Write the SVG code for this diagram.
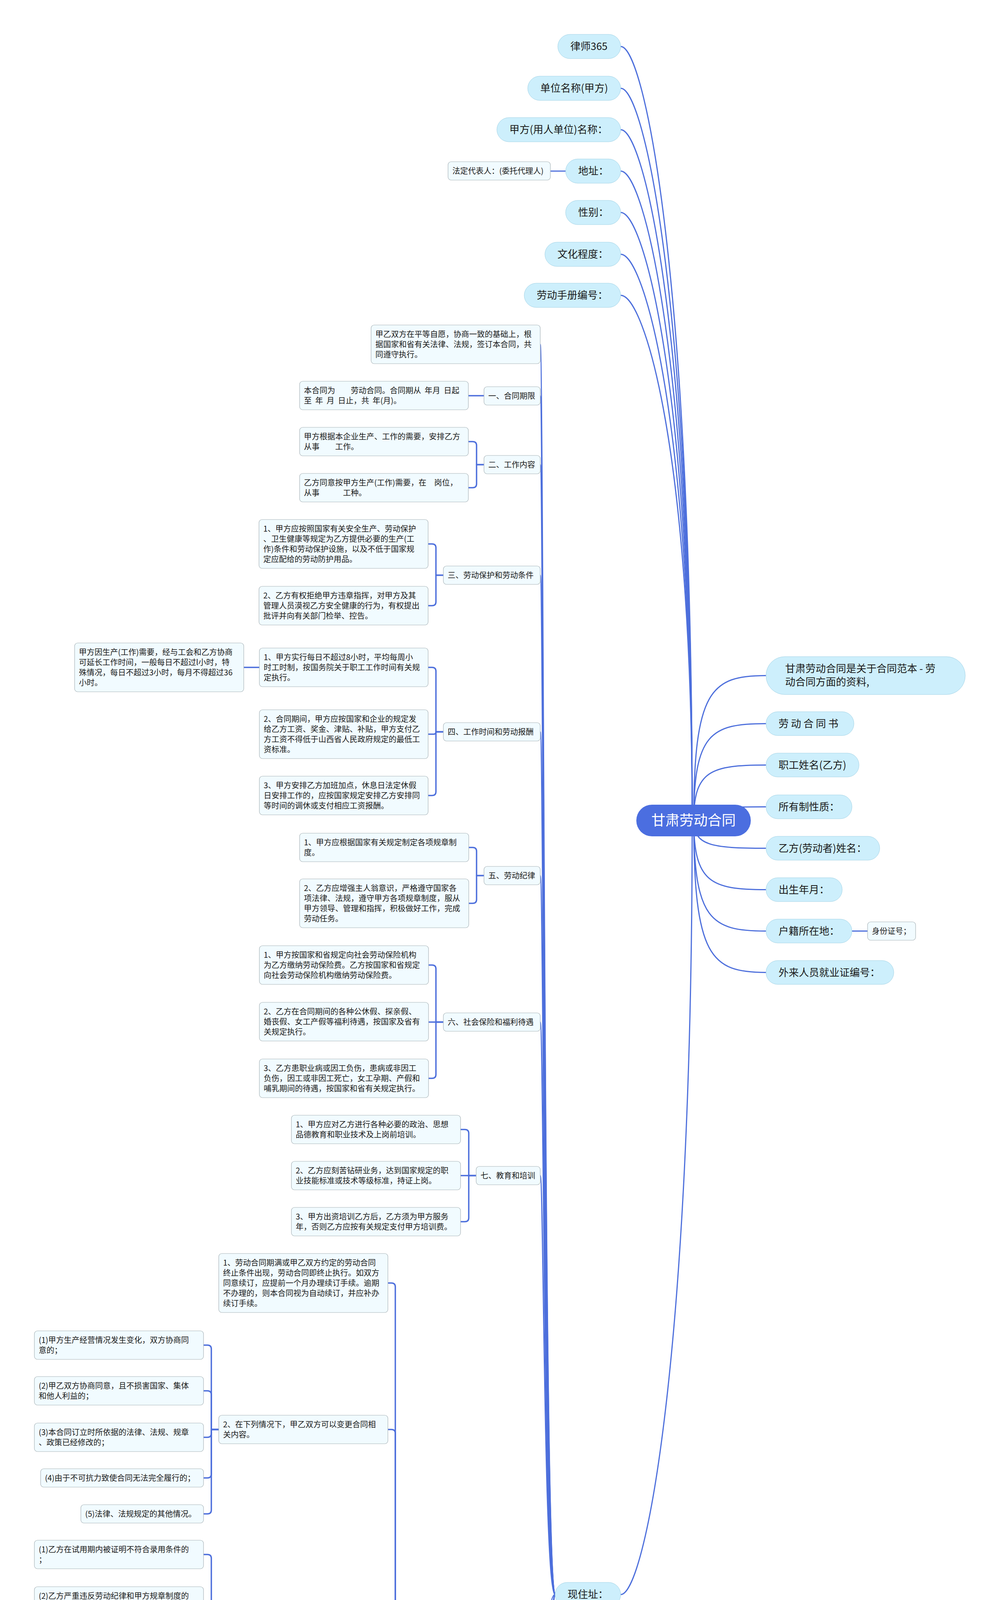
<svg xmlns="http://www.w3.org/2000/svg" width="2560" height="7577" viewBox="0 0 2560 7577">
<style>
text{font-family:"Noto Sans CJK SC","Noto Sans",sans-serif;fill:#1a1a1a}
.p rect{fill:#cdeffc;stroke:#a3d3e6;stroke-width:1}
.p text{font-size:26px}
.b rect{fill:#f1fbff;stroke:#a8b3b8;stroke-width:1.2}
.b text{font-size:20px}
.x text{font-family:"DejaVu Sans",sans-serif;font-size:30px;text-anchor:middle;font-weight:300}
#n-root rect{fill:#4b6ee0}
#n-root text{font-size:36px;fill:#ffffff;text-anchor:middle}
.c path{fill:none;stroke:#4d6fdc;stroke-width:3;stroke-linecap:round}
.k path{fill:none;stroke:#4d6fdc;stroke-width:3.5;stroke-linecap:round;stroke-linejoin:round}
</style>
<g id="connectors">
<g class="c">
<path d="M1589,119 C1650,119 1772,713 1772,2100"/>
<path d="M1589,226 C1650,226 1772,788 1772,2100"/>
<path d="M1589,332 C1650,332 1772,862 1772,2100"/>
<path d="M1589,438 C1650,438 1772,937 1772,2100"/>
<path d="M1589,544 C1650,544 1772,1011 1772,2100"/>
<path d="M1589,651 C1650,651 1772,1086 1772,2100"/>
<path d="M1589,756 C1650,756 1772,1159 1772,2100"/>
<path d="M1589,4082 C1650,4082 1772,3487 1772,2100"/>
<path d="M1776,2100 C1776,1766.5 1820,1729.5 1961,1729.5"/>
<path d="M1776,2100 C1776,1877 1820,1852.5 1961,1852.5"/>
<path d="M1776,2100 C1776,1972.6 1820,1958.5 1961,1958.5"/>
<path d="M1776,2100 C1776,2069 1820,2065.5 1961,2065.5"/>
<path d="M1776,2100 C1776,2164.4 1820,2171.5 1961,2171.5"/>
<path d="M1776,2100 C1776,2259.8 1820,2277.5 1961,2277.5"/>
<path d="M1776,2100 C1776,2355.2 1820,2383.5 1961,2383.5"/>
<path d="M1776,2100 C1776,2450.6 1820,2489.5 1961,2489.5"/>
<path d="M1409,438 H1448"/>
<path d="M2181,2383.5 H2221"/>
<path d="M1421,4082 C1392,4082 1392,881.5 1383,881.5"/>
<path d="M1421,4082 C1392,4082 1392,1013.5 1383,1013.5"/>
<path d="M1421,4082 C1392,4082 1392,1189.5 1383,1189.5"/>
<path d="M1421,4082 C1392,4082 1392,1472.5 1383,1472.5"/>
<path d="M1421,4082 C1392,4082 1392,1873.5 1383,1873.5"/>
<path d="M1421,4082 C1392,4082 1392,2241.5 1383,2241.5"/>
<path d="M1421,4082 C1392,4082 1392,2616.5 1383,2616.5"/>
<path d="M1421,4082 C1392,4082 1392,3009.5 1383,3009.5"/>
<path d="M1421,4082 C1392,4082 1392,4462.5 1383,4462.5"/>
<path d="M1421,4082 C1392,4082 1392,5919.5 1383,5919.5"/>
<path d="M1421,4082 C1392,4082 1392,6217.5 1383,6217.5"/>
<path d="M1421,4082 C1392,4082 1392,6712.5 1383,6712.5"/>
<path d="M1421,4082 C1392,4082 1392,6981.5 1383,6981.5"/>
<path d="M1421,4082 C1392,4082 1392,7281.5 1383,7281.5"/>
</g>
<g class="k">
<path d="M1239,1013 H1199"/>
<path d="M1239,1189.5 H1220 V1140.5 Q1220,1130.5 1210,1130.5 H1199"/>
<path d="M1239,1189.5 H1220 V1238.5 Q1220,1248.5 1210,1248.5 H1199"/>
<path d="M1135,1472.5 H1116 V1402.5 Q1116,1392.5 1106,1392.5 H1096"/>
<path d="M1135,1472.5 H1116 V1540.5 Q1116,1550.5 1106,1550.5 H1096"/>
<path d="M1135,1873.5 H1116 V1718.5 Q1116,1708.5 1106,1708.5 H1096"/>
<path d="M1135,1873.5 H1116 V1873.5 Q1116,1879.5 1110,1879.5 H1096"/>
<path d="M1135,1873.5 H1116 V2026.5 Q1116,2036.5 1106,2036.5 H1096"/>
<path d="M664,1708.5 H624"/>
<path d="M1239,2241.5 H1220 V2179.5 Q1220,2169.5 1210,2169.5 H1200"/>
<path d="M1239,2241.5 H1220 V2302.5 Q1220,2312.5 1210,2312.5 H1200"/>
<path d="M1135,2616.5 H1116 V2480.5 Q1116,2470.5 1106,2470.5 H1097"/>
<path d="M1135,2616.5 H1097"/>
<path d="M1135,2616.5 H1116 V2750.5 Q1116,2760.5 1106,2760.5 H1097"/>
<path d="M1219,3009.5 H1200 V2901.5 Q1200,2891.5 1190,2891.5 H1179"/>
<path d="M1219,3009.5 H1179"/>
<path d="M1219,3009.5 H1200 V3117.5 Q1200,3127.5 1190,3127.5 H1179"/>
<path d="M1031,4462.5 H1012 V3294.5 Q1012,3284.5 1002,3284.5 H993"/>
<path d="M1031,4462.5 H1012 V3669.5 Q1012,3659.5 1002,3659.5 H993"/>
<path d="M1031,4462.5 H1012 V4160.5 Q1012,4150.5 1002,4150.5 H993"/>
<path d="M1031,4462.5 H1012 V4611.5 Q1012,4621.5 1002,4621.5 H993"/>
<path d="M1031,4462.5 H1012 V5077.5 Q1012,5087.5 1002,5087.5 H993"/>
<path d="M1031,4462.5 H1012 V5332.5 Q1012,5342.5 1002,5342.5 H993"/>
<path d="M1031,4462.5 H1012 V5627.5 Q1012,5637.5 1002,5637.5 H993"/>
<path d="M560,3659.5 H541 V3453.5 Q541,3443.5 531,3443.5 H521"/>
<path d="M560,3659.5 H541 V3570.5 Q541,3560.5 531,3560.5 H521"/>
<path d="M560,3659.5 H541 V3669.5 Q541,3679.5 531,3679.5 H521"/>
<path d="M560,3659.5 H541 V3773.5 Q541,3783.5 531,3783.5 H521"/>
<path d="M560,3659.5 H541 V3865.5 Q541,3875.5 531,3875.5 H521"/>
<path d="M560,4150.5 H541 V3989.5 Q541,3979.5 531,3979.5 H521"/>
<path d="M560,4150.5 H541 V4108.5 Q541,4098.5 531,4098.5 H521"/>
<path d="M560,4150.5 H541 V4205.5 Q541,4215.5 531,4215.5 H521"/>
<path d="M560,4150.5 H541 V4310.5 Q541,4320.5 531,4320.5 H521"/>
<path d="M560,4621.5 H541 V4448.5 Q541,4438.5 531,4438.5 H521"/>
<path d="M560,4621.5 H541 V4580.5 Q541,4570.5 531,4570.5 H521"/>
<path d="M560,4621.5 H541 V4677.5 Q541,4687.5 531,4687.5 H521"/>
<path d="M560,4621.5 H541 V4796.5 Q541,4806.5 531,4806.5 H521"/>
<path d="M560,5087.5 H541 V4946.5 Q541,4936.5 531,4936.5 H521"/>
<path d="M560,5087.5 H541 V5065.5 Q541,5055.5 531,5055.5 H521"/>
<path d="M560,5087.5 H541 V5137.5 Q541,5147.5 531,5147.5 H521"/>
<path d="M560,5087.5 H541 V5228.5 Q541,5238.5 531,5238.5 H521"/>
<path d="M560,5637.5 H541 V5470.5 Q541,5460.5 531,5460.5 H521"/>
<path d="M560,5637.5 H541 V5588.5 Q541,5578.5 531,5578.5 H521"/>
<path d="M560,5637.5 H541 V5686.5 Q541,5696.5 531,5696.5 H521"/>
<path d="M560,5637.5 H541 V5804.5 Q541,5814.5 531,5814.5 H521"/>
<path d="M1239,6217.5 H1220 V6033.5 Q1220,6023.5 1210,6023.5 H1200"/>
<path d="M1239,6217.5 H1220 V6151.5 Q1220,6141.5 1210,6141.5 H1200"/>
<path d="M1239,6217.5 H1220 V6249.5 Q1220,6259.5 1210,6259.5 H1200"/>
<path d="M1239,6217.5 H1220 V6399.5 Q1220,6409.5 1210,6409.5 H1200"/>
<path d="M767,6023.5 H728"/>
<path d="M767,6409.5 H748 V6374.5 Q748,6364.5 738,6364.5 H728"/>
<path d="M767,6409.5 H748 V6446 Q748,6456 738,6456 H728"/>
<path d="M1095,6712.5 H1076 V6570.5 Q1076,6560.5 1066,6560.5 H1055"/>
<path d="M1095,6712.5 H1076 V6712.5 Q1076,6717.5 1071,6717.5 H1055"/>
<path d="M1095,6712.5 H1076 V6853 Q1076,6863 1066,6863 H1055"/>
<path d="M950,6981.5 H911"/>
<path d="M950,7281.5 H931 V7108.5 Q931,7098.5 921,7098.5 H911"/>
<path d="M950,7281.5 H931 V7200.5 Q931,7190.5 921,7190.5 H911"/>
<path d="M950,7281.5 H911"/>
<path d="M950,7281.5 H931 V7363.5 Q931,7373.5 921,7373.5 H911"/>
<path d="M950,7281.5 H931 V7454.5 Q931,7464.5 921,7464.5 H911"/>
</g>
</g>

<g id="n-root"><rect x="1629" y="2060" width="293" height="81" rx="40"/><text x="1775.5" y="2113">甘肃劳动合同</text></g>

<g id="n-lawyer" class="p"><rect x="1428" y="88" width="161" height="62" rx="31"/><text x="1460" y="128">律师365</text></g>
<g id="n-unit" class="p"><rect x="1351" y="195" width="238" height="62" rx="31"/><text x="1383" y="235">单位名称(甲方)</text></g>
<g id="n-jiafang" class="p"><rect x="1272" y="301" width="317" height="62" rx="31"/><text x="1304" y="341">甲方(用人单位)名称：</text></g>
<g id="n-addr" class="p"><rect x="1448" y="407" width="141" height="62" rx="31"/><text x="1480" y="447">地址：</text></g>
<g id="n-legal" class="b"><rect x="1147" y="414" width="262" height="47" rx="8"/><text x="1158" y="445">法定代表人：(委托代理人)</text></g>
<g id="n-gender" class="p"><rect x="1448" y="513" width="141" height="62" rx="31"/><text x="1480" y="553">性别：</text></g>
<g id="n-edu" class="p"><rect x="1395" y="620" width="194" height="62" rx="31"/><text x="1427" y="660">文化程度：</text></g>
<g id="n-manual" class="p"><rect x="1342" y="725" width="247" height="62" rx="31"/><text x="1374" y="765">劳动手册编号：</text></g>
<g id="n-live" class="p"><rect x="1421" y="4051" width="168" height="62" rx="31"/><text x="1453" y="4091">现住址：</text></g>

<g id="n-r1" class="p"><rect x="1961" y="1681" width="510" height="97" rx="48"/><text x="2010" y="1721">甘肃劳动合同是关于合同范本 - 劳</text><text x="2010" y="1755">动合同方面的资料,</text></g>
<g id="n-r2" class="p"><rect x="1961" y="1822" width="225" height="61" rx="30"/><text x="1993" y="1862">劳 动 合 同 书</text></g>
<g id="n-r3" class="p"><rect x="1961" y="1928" width="238" height="61" rx="30"/><text x="1993" y="1968">职工姓名(乙方)</text></g>
<g id="n-r4" class="p"><rect x="1961" y="2035" width="220" height="61" rx="30"/><text x="1993" y="2075">所有制性质：</text></g>
<g id="n-r5" class="p"><rect x="1961" y="2141" width="291" height="61" rx="30"/><text x="1993" y="2181">乙方(劳动者)姓名：</text></g>
<g id="n-r6" class="p"><rect x="1961" y="2247" width="195" height="61" rx="30"/><text x="1993" y="2287">出生年月：</text></g>
<g id="n-r7" class="p"><rect x="1961" y="2353" width="220" height="61" rx="30"/><text x="1993" y="2393">户籍所在地：</text></g>
<g id="n-id" class="b"><rect x="2221" y="2360" width="123" height="47" rx="8"/><text x="2232" y="2391">身份证号；</text></g>
<g id="n-r8" class="p"><rect x="1961" y="2459" width="327" height="61" rx="30"/><text x="1993" y="2499">外来人员就业证编号：</text></g>

<g id="n-s0" class="b"><rect x="950" y="832" width="433" height="99" rx="8"/><text x="961" y="863">甲乙双方在平等自愿，协商一致的基础上，根</text><text x="961" y="889">据国家和省有关法律、法规，签订本合同，共</text><text x="961" y="915">同遵守执行。</text></g>

<g id="n-s1" class="b"><rect x="1239" y="990" width="144" height="47" rx="8"/><text x="1250" y="1021">一、合同期限</text></g>
<g id="n-s1a" class="b"><rect x="767" y="976" width="432" height="73" rx="8"/><text x="778" y="1007" xml:space="preserve">本合同为　　劳动合同。合同期从  年月  日起</text><text x="778" y="1033" xml:space="preserve">至  年  月  日止，共  年(月)。</text></g>

<g id="n-s2" class="b"><rect x="1239" y="1166" width="144" height="47" rx="8"/><text x="1250" y="1197">二、工作内容</text></g>
<g id="n-s2a" class="b"><rect x="767" y="1094" width="432" height="73" rx="8"/><text x="778" y="1125">甲方根据本企业生产、工作的需要，安排乙方</text><text x="778" y="1151">从事　　工作。</text></g>
<g id="n-s2b" class="b"><rect x="767" y="1212" width="432" height="73" rx="8"/><text x="778" y="1243">乙方同意按甲方生产(工作)需要，在　岗位，</text><text x="778" y="1269">从事　　　工种。</text></g>

<g id="n-s3" class="b"><rect x="1135" y="1449" width="248" height="47" rx="8"/><text x="1146" y="1480">三、劳动保护和劳动条件</text></g>
<g id="n-s3a" class="b"><rect x="663" y="1330" width="433" height="125" rx="8"/><text x="674" y="1361">1、甲方应按照国家有关安全生产、劳动保护</text><text x="674" y="1387">、卫生健康等规定为乙方提供必要的生产(工</text><text x="674" y="1413">作)条件和劳动保护设施，以及不低于国家规</text><text x="674" y="1439">定应配给的劳动防护用品。</text></g>
<g id="n-s3b" class="b"><rect x="663" y="1501" width="433" height="99" rx="8"/><text x="674" y="1532">2、乙方有权拒绝甲方违章指挥，对甲方及其</text><text x="674" y="1558">管理人员漠视乙方安全健康的行为，有权提出</text><text x="674" y="1584">批评并向有关部门检举、控告。</text></g>

<g id="n-s4" class="b"><rect x="1135" y="1850" width="248" height="47" rx="8"/><text x="1146" y="1881">四、工作时间和劳动报酬</text></g>
<g id="n-s4a" class="b"><rect x="664" y="1659" width="432" height="99" rx="8"/><text x="675" y="1690">1、甲方实行每日不超过8小时，平均每周小</text><text x="675" y="1716">时工时制，按国务院关于职工工作时间有关规</text><text x="675" y="1742">定执行。</text></g>
<g id="n-s4a1" class="b"><rect x="191" y="1646" width="433" height="125" rx="8"/><text x="202" y="1677">甲方因生产(工作)需要，经与工会和乙方协商</text><text x="202" y="1703">可延长工作时间，一般每日不超过l小时，特</text><text x="202" y="1729">殊情况，每日不超过3小时，每月不得超过36</text><text x="202" y="1755">小时。</text></g>
<g id="n-s4b" class="b"><rect x="664" y="1817" width="432" height="125" rx="8"/><text x="675" y="1848">2、合同期间，甲方应按国家和企业的规定发</text><text x="675" y="1874">给乙方工资、奖金、津贴、补贴，甲方支付乙</text><text x="675" y="1900">方工资不得低于山西省人民政府规定的最低工</text><text x="675" y="1926">资标准。</text></g>
<g id="n-s4c" class="b"><rect x="664" y="1987" width="432" height="99" rx="8"/><text x="675" y="2018">3、甲方安排乙方加班加点，休息日法定休假</text><text x="675" y="2044">日安排工作的，应按国家规定安排乙方安排同</text><text x="675" y="2070">等时间的调休或支付相应工资报酬。</text></g>

<g id="n-s5" class="b"><rect x="1239" y="2218" width="144" height="47" rx="8"/><text x="1250" y="2249">五、劳动纪律</text></g>
<g id="n-s5a" class="b"><rect x="767" y="2133" width="433" height="73" rx="8"/><text x="778" y="2164">1、甲方应根据国家有关规定制定各项规章制</text><text x="778" y="2190">度。</text></g>
<g id="n-s5b" class="b"><rect x="767" y="2250" width="433" height="125" rx="8"/><text x="778" y="2281">2、乙方应增强主人翁意识，严格遵守国家各</text><text x="778" y="2307">项法律、法规，遵守甲方各项规章制度，服从</text><text x="778" y="2333">甲方领导、管理和指挥，积极做好工作，完成</text><text x="778" y="2359">劳动任务。</text></g>

<g id="n-s6" class="b"><rect x="1135" y="2593" width="248" height="47" rx="8"/><text x="1146" y="2624">六、社会保险和福利待遇</text></g>
<g id="n-s6a" class="b"><rect x="664" y="2421" width="433" height="99" rx="8"/><text x="675" y="2452">1、甲方按国家和省规定向社会劳动保险机构</text><text x="675" y="2478">为乙方缴纳劳动保险费。乙方按国家和省规定</text><text x="675" y="2504">向社会劳动保险机构缴纳劳动保险费。</text></g>
<g id="n-s6b" class="b"><rect x="664" y="2566" width="433" height="99" rx="8"/><text x="675" y="2597">2、乙方在合同期间的各种公休假、探亲假、</text><text x="675" y="2623">婚丧假、女工产假等福利待遇，按国家及省有</text><text x="675" y="2649">关规定执行。</text></g>
<g id="n-s6c" class="b"><rect x="664" y="2711" width="433" height="99" rx="8"/><text x="675" y="2742">3、乙方患职业病或因工负伤，患病或非因工</text><text x="675" y="2768">负伤，因工或非因工死亡，女工孕期、产假和</text><text x="675" y="2794">哺乳期间的待遇，按国家和省有关规定执行。</text></g>

<g id="n-s7" class="b"><rect x="1219" y="2986" width="164" height="47" rx="8"/><text x="1230" y="3017">七、教育和培训</text></g>
<g id="n-s7a" class="b"><rect x="746" y="2855" width="433" height="73" rx="8"/><text x="757" y="2886">1、甲方应对乙方进行各种必要的政治、思想</text><text x="757" y="2912">品德教育和职业技术及上岗前培训。</text></g>
<g id="n-s7b" class="b"><rect x="746" y="2973" width="433" height="73" rx="8"/><text x="757" y="3004">2、乙方应刻苦钻研业务，达到国家规定的职</text><text x="757" y="3030">业技能标准或技术等级标准，持证上岗。</text></g>
<g id="n-s7c" class="b"><rect x="746" y="3091" width="433" height="73" rx="8"/><text x="757" y="3122">3、甲方出资培训乙方后，乙方须为甲方服务</text><text x="757" y="3148">年，否则乙方应按有关规定支付甲方培训费。</text></g>

<g id="n-s8" class="b"><rect x="1031" y="4439" width="352" height="47" rx="8"/><text x="1042" y="4470">八、合同的终止、变更、解除和续订</text></g>
<g id="n-s8-1" class="b"><rect x="560" y="3209" width="433" height="151" rx="8"/><text x="571" y="3240">1、劳动合同期满或甲乙双方约定的劳动合同</text><text x="571" y="3266">终止条件出现，劳动合同即终止执行。如双方</text><text x="571" y="3292">同意续订，应提前一个月办理续订手续。逾期</text><text x="571" y="3318">不办理的，则本合同视为自动续订，并应补办</text><text x="571" y="3344">续订手续。</text></g>
<g id="n-s8-2" class="b"><rect x="560" y="3623" width="433" height="73" rx="8"/><text x="571" y="3654">2、在下列情况下，甲乙双方可以变更合同相</text><text x="571" y="3680">关内容。</text></g>
<g id="n-s8-2-1" class="b"><rect x="88" y="3407" width="433" height="73" rx="8"/><text x="99" y="3438">(1)甲方生产经营情况发生变化，双方协商同</text><text x="99" y="3464">意的；</text></g>
<g id="n-s8-2-2" class="b"><rect x="88" y="3524" width="433" height="73" rx="8"/><text x="99" y="3555">(2)甲乙双方协商同意，且不损害国家、集体</text><text x="99" y="3581">和他人利益的；</text></g>
<g id="n-s8-2-3" class="b"><rect x="88" y="3643" width="433" height="73" rx="8"/><text x="99" y="3674">(3)本合同订立时所依据的法律、法规、规章</text><text x="99" y="3700">、政策已经修改的；</text></g>
<g id="n-s8-2-4" class="b"><rect x="104" y="3760" width="417" height="47" rx="8"/><text x="115" y="3791">(4)由于不可抗力致使合同无法完全履行的；</text></g>
<g id="n-s8-2-5" class="b"><rect x="207" y="3852" width="314" height="47" rx="8"/><text x="218" y="3883">(5)法律、法规规定的其他情况。</text></g>
<g id="n-s8-3" class="b"><rect x="560" y="4114" width="433" height="73" rx="8"/><text x="571" y="4145">3、有下列情形之一的，甲方可以解除劳动合</text><text x="571" y="4171">同。</text></g>
<g id="n-s8-3-1" class="b"><rect x="88" y="3943" width="433" height="73" rx="8"/><text x="99" y="3974">(1)乙方在试用期内被证明不符合录用条件的</text><text x="99" y="4000">；</text></g>
<g id="n-s8-3-2" class="b"><rect x="88" y="4062" width="433" height="73" rx="8"/><text x="99" y="4093">(2)乙方严重违反劳动纪律和甲方规章制度的</text><text x="99" y="4119">；</text></g>
<g id="n-s8-3-3" class="b"><rect x="88" y="4179" width="433" height="73" rx="8"/><text x="99" y="4210">(3)乙方严重失职，营私舞弊，对甲方利益造</text><text x="99" y="4236">成重大损害的；</text></g>
<g id="n-s8-3-4" class="b"><rect x="207" y="4297" width="314" height="47" rx="8"/><text x="218" y="4328">(4)乙方被依法追究刑事责任的。</text></g>
<g id="n-s8-4" class="b"><rect x="560" y="4585" width="433" height="73" rx="8"/><text x="571" y="4616">4、有下列情形之一的，甲方可以解除劳动合</text><text x="571" y="4642">同，但应提前30日以书面形式通知乙方。</text></g>
<g id="n-s8-4-1" class="b"><rect x="88" y="4389" width="433" height="99" rx="8"/><text x="99" y="4420">(1)乙方患病或非因工负伤，医疗期满后，不</text><text x="99" y="4446">能从事原工作也不能从事甲方另行安排的工作</text><text x="99" y="4472">的；</text></g>
<g id="n-s8-4-2" class="b"><rect x="88" y="4534" width="433" height="73" rx="8"/><text x="99" y="4565">(2)甲方濒临破产，处于法定整顿期间或生产</text><text x="99" y="4591">经营状况发生严重困难，确需裁减人员的；</text></g>
<g id="n-s8-4-3" class="b"><rect x="88" y="4651" width="433" height="73" rx="8"/><text x="99" y="4682">(3)乙方不能胜任工作，经过培训或者调整工</text><text x="99" y="4708">作岗位，仍不能胜任工作的；</text></g>
<g id="n-s8-4-4" class="b"><rect x="88" y="4770" width="433" height="73" rx="8"/><text x="99" y="4801">(4)甲乙双方不能就变更劳动合同达成协议的</text><text x="99" y="4827">。</text></g>
<g id="n-s8-5" class="b"><rect x="560" y="5051" width="433" height="73" rx="8"/><text x="571" y="5082">5、有下列情形之一的，甲方不得解除劳动合</text><text x="571" y="5108">同。</text></g>
<g id="n-s8-5-1" class="b"><rect x="88" y="4887" width="433" height="99" rx="8"/><text x="99" y="4918">(1)乙方患职业病或因工负伤。经劳动鉴定委</text><text x="99" y="4944">员会确认丧失劳动能力或部分丧失劳动能力的</text><text x="99" y="4970">；</text></g>
<g id="n-s8-5-2" class="b"><rect x="104" y="5032" width="417" height="47" rx="8"/><text x="115" y="5063">(2)乙方患病或负伤。在规定的医疗期内的；</text></g>
<g id="n-s8-5-3" class="b"><rect x="166" y="5124" width="355" height="47" rx="8"/><text x="177" y="5155">(3)乙方在孕期、产期、哺乳期间的；</text></g>
<g id="n-s8-5-4" class="b"><rect x="166" y="5215" width="355" height="47" rx="8"/><text x="177" y="5246">(4)其它符合法律、行政法规规定的。</text></g>
<g id="n-s8-6" class="b"><rect x="560" y="5306" width="433" height="73" rx="8"/><text x="571" y="5337">6、乙方要求解除劳动合同，应当提前30日以</text><text x="571" y="5363">书面形式通知甲方。</text></g>
<g id="n-s8-7" class="b"><rect x="560" y="5601" width="433" height="73" rx="8"/><text x="571" y="5632">7、有下列情形之一的。乙方可随时通知甲方</text><text x="571" y="5658">解除劳动合同。</text></g>
<g id="n-s8-7-1" class="b"><rect x="88" y="5424" width="433" height="73" rx="8"/><text x="99" y="5455">(1)甲方以暴力威胁或者非法限制人身自由的</text><text x="99" y="5481">手段强迫劳动的；</text></g>
<g id="n-s8-7-2" class="b"><rect x="88" y="5542" width="433" height="73" rx="8"/><text x="99" y="5573">(2)经国家有关部门确认，劳动安全、卫生条</text><text x="99" y="5599">件恶劣，严重危害乙方身心健康的；</text></g>
<g id="n-s8-7-3" class="b"><rect x="88" y="5660" width="433" height="73" rx="8"/><text x="99" y="5691">(3)甲方不能按照劳动合同约定支付劳动报酬</text><text x="99" y="5717">和提供福利待遇的；</text></g>
<g id="n-s8-7-4" class="b"><rect x="88" y="5778" width="433" height="73" rx="8"/><text x="99" y="5809">(4)依法服兵役或经甲方同意自费考入中等以</text><text x="99" y="5835">上学校脱产学习的。</text></g>

<g id="n-s9" class="b"><rect x="971" y="5896" width="412" height="47" rx="8"/><text x="982" y="5927">九、甲乙双方协商同意需要约定的其它事项</text></g>

<g id="n-s10" class="b"><rect x="1239" y="6194" width="144" height="47" rx="8"/><text x="1250" y="6225">十、违约责任</text></g>
<g id="n-s10-1" class="b"><rect x="767" y="5987" width="433" height="73" rx="8"/><text x="778" y="6018">1、由于甲乙双方任何一方的过错造成合同不</text><text x="778" y="6044">能履行或者不能完全履行，由有</text></g>
<g id="n-s10-1a" class="b"><rect x="295" y="5987" width="433" height="73" rx="8"/><text x="306" y="6018">过错的一方承担法律责任；如属双方过错，根</text><text x="306" y="6044">据实际情况，由双方分别承担法律责任；</text></g>
<g id="n-s10-2" class="b"><rect x="767" y="6105" width="433" height="73" rx="8"/><text x="778" y="6136">2、因不可抗力造成不能履行合同或一方受损</text><text x="778" y="6162">害的，可不承担法律责任；</text></g>
<g id="n-s10-3" class="b"><rect x="767" y="6223" width="433" height="73" rx="8"/><text x="778" y="6254">3、甲乙双方任何一方违反合同时，应向对方</text><text x="778" y="6280">支付违约金；</text></g>
<g id="n-s10-4" class="b"><rect x="767" y="6373" width="433" height="73" rx="8"/><text x="778" y="6404">4、甲乙双方任何一方违反合同，给对方造成</text><text x="778" y="6430">损害的，应根据后果和责任，按有</text></g>
<g id="n-s10-4a" class="b"><rect x="461" y="6341" width="267" height="47" rx="8"/><text x="472" y="6372">关规定向对方支付赔偿金。</text></g>
<g id="n-s10-4b" class="b x"><rect x="687" y="6433" width="41" height="46" rx="8"/><text x="707.5" y="6466">+</text></g>

<g id="n-s11" class="b"><rect x="1095" y="6689" width="288" height="47" rx="8"/><text x="1106" y="6720">一、合同鉴证与劳动争议处理</text></g>
<g id="n-s11a" class="b"><rect x="622" y="6524" width="433" height="73" rx="8"/><text x="633" y="6555">劳动合同签订后，应经同级劳动部门鉴证；经</text><text x="633" y="6581">鉴证后的劳动合同变更内容的应重新鉴证。</text></g>
<g id="n-s11b" class="b"><rect x="622" y="6642" width="433" height="151" rx="8"/><text x="633" y="6673">甲乙双方执行合同发生争议，当事人应当协商</text><text x="633" y="6699">解决，不愿协商或者协商不成的，可以向本企</text><text x="633" y="6725">业劳动争议调解委员会申请调解，调解不成的</text><text x="633" y="6751">，可以向企业所在地劳动争议仲裁委员会申请</text><text x="633" y="6777">仲裁。</text></g>
<g id="n-s11c" class="b x"><rect x="1015" y="6840" width="40" height="46" rx="8"/><text x="1035" y="6873">+</text></g>

<g id="n-s12" class="b"><rect x="950" y="6932" width="433" height="99" rx="8"/><text x="961" y="6963">二、本合同未尽事宜或条款与法律、法规、规</text><text x="961" y="6989">章、政策有抵触的，按国家现行有关规定执行</text><text x="961" y="7015">。</text></g>
<g id="n-s12a" class="b x"><rect x="871" y="6958" width="40" height="46" rx="8"/><text x="891" y="6991">+</text></g>

<g id="n-s13" class="b"><rect x="950" y="7245" width="433" height="73" rx="8"/><text x="961" y="7276">三、本合同自　年　月　日起生效。一式三份</text><text x="961" y="7302">，甲乙双方各执一份，鉴证机关一份。</text></g>
<g id="n-s13a" class="b"><rect x="613" y="7075" width="298" height="47" rx="8"/><text x="624" y="7106" xml:space="preserve">甲方(盖章)　　　　 乙方(盖章)</text></g>
<g id="n-s13b" class="b"><rect x="616" y="7167" width="295" height="47" rx="8"/><text x="627" y="7198">法定代表人(委托代理人)(盖章)</text></g>
<g id="n-s13c" class="b"><rect x="685" y="7258" width="226" height="47" rx="8"/><text x="696" y="7289">合同签订日期：年月日</text></g>
<g id="n-s13d" class="b"><rect x="575" y="7350" width="336" height="47" rx="8"/><text x="586" y="7381">鉴证人(盖章)　　　鉴证机关(盖章)</text></g>
<g id="n-s13e" class="b"><rect x="648" y="7441" width="263" height="47" rx="8"/><text x="659" y="7472" xml:space="preserve">合同鉴证日期：   年  月  日</text></g>
</svg>
